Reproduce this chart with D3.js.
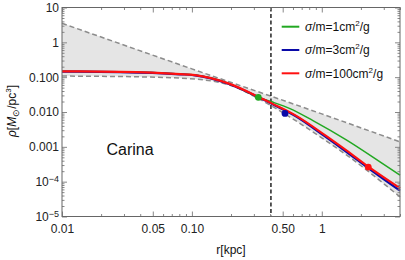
<!DOCTYPE html>
<html>
<head>
<meta charset="utf-8">
<script src="https://cdn.jsdelivr.net/npm/d3@7"></script>
<style>
  body { margin: 0; background: #fff; }
  text { font-family: "Liberation Sans", Arial, sans-serif; }
</style>
</head>
<body>
<div id="chart-area"></div>
<script>
// values
var rCurve = [0.01, 0.028, 0.081, 0.1056, 0.1906, 0.3245, 0.4115, 0.622, 1.058, 1.555, 2.28, 4];
var rhoRed = [0.1468, 0.142, 0.1228, 0.1149, 0.0664, 0.02734, 0.01767, 0.00814, 0.00217, 7.78e-4, 2.70e-4, 6.5e-5];
var rhoBlue = [0.145, 0.140, 0.121, 0.113, 0.065, 0.0268, 0.0172, 0.0078, 0.0020, 7.1e-4, 2.45e-4, 5.5e-5];

var rGreen = [0.01, 0.028, 0.081, 0.1056, 0.1906, 0.3245, 0.4115, 0.569, 0.855, 1.555, 2.806, 4];
var rhoGreen = [0.1468, 0.142, 0.1228, 0.1149, 0.0664, 0.02627, 0.01964, 0.01252, 0.00566, 0.001558, 3.71e-4, 1.54e-4];

var rUpper = [0.01, 0.1, 1, 4];
var rhoUpper = [3.52, 0.173, 0.00882, 0.00139];
var rLower = [0.01, 0.0476, 0.1056, 0.2276, 0.2887, 0.569, 1.058, 1.555, 4];
var rhoLower = [0.1075, 0.1007, 0.0882, 0.0477, 0.0306, 0.00714, 0.001558, 5.77e-4, 3.66e-5];

var dotR = [0.3245, 0.521, 2.28];
var dotRho = [0.0263, 0.00912, 2.62e-4];
var dotColors = ['#22a822', '#0a0aa8', '#ff1010'];

var rCut = 0.406;

var legendLabels = ['1', '3', '100'];
var legendColors = ['#22a822', '#0a0aa8', '#ff1010'];

var xMajor = [0.01, 0.05, 0.1, 0.5, 1];
var xMajorLabels = ['0.01', '0.05', '0.10', '0.50', '1'];
var xMinor = [0.02, 0.03, 0.04, 0.06, 0.07, 0.08, 0.09, 0.2, 0.3, 0.4, 0.6, 0.7, 0.8, 0.9, 2, 3, 4];
var yMajor = [10, 1, 0.1, 0.01, 0.001, 1e-4, 1e-5];
var yMajorLabels = ['10', '1', '0.100', '0.010', '0.001', '10^-4', '10^-5'];

var yMinor = [];
[1e-5, 1e-4, 1e-3, 1e-2, 1e-1, 1].forEach(function (d) {
    [2, 3, 4, 5, 6, 7, 8, 9].forEach(function (k) { yMinor.push(d * k); });
});

var W = 405, H = 260;
var margin = {top: 7.5, right: 5, bottom: 43.5, left: 62};
var width = W - margin.left - margin.right;
var height = H - margin.top - margin.bottom;

var svg = d3.select('#chart-area')
    .append('svg')
        .attr('width', W)
        .attr('height', H);

var g = svg.append('g')
    .attr('transform', 'translate(' + margin.left + ',' + margin.top + ')');

var x = d3.scaleLog().domain([0.01, 4]).range([0, width]);
var y = d3.scaleLog().domain([1e-5, 10]).range([height, 0]);

var line = d3.line()
    .x(function (d) { return x(d[0]); })
    .y(function (d) { return y(d[1]); })
    .curve(d3.curveMonotoneX);

var pts = function (rs, vs) { return rs.map(function (r, i) { return [r, vs[i]]; }); };

// shaded band
var upperPts = pts(rUpper, rhoUpper);
var lowerPts = pts(rLower, rhoLower);
var bandPath = line(upperPts) + 'L' + line(lowerPts.slice().reverse()).slice(1) + 'Z';
g.append('path')
    .attr('d', bandPath)
    .attr('fill', '#e5e5e5')
    .attr('stroke', 'none');

[upperPts, lowerPts].forEach(function (p) {
    g.append('path')
        .attr('d', line(p))
        .attr('fill', 'none')
        .attr('stroke', '#8c8c8c')
        .attr('stroke-width', 1.5)
        .attr('stroke-dasharray', '5,3');
});

// vertical cut
g.append('line')
    .attr('x1', x(rCut)).attr('x2', x(rCut))
    .attr('y1', 0).attr('y2', height)
    .attr('stroke', '#000')
    .attr('stroke-width', 1.3)
    .attr('stroke-dasharray', '4,2.5');

// curves
g.append('path').attr('d', line(pts(rGreen, rhoGreen)))
    .attr('fill', 'none').attr('stroke', legendColors[0]).attr('stroke-width', 1.5);
g.append('path').attr('d', line(pts(rCurve, rhoBlue)))
    .attr('fill', 'none').attr('stroke', legendColors[1]).attr('stroke-width', 2.2);
g.append('path').attr('d', line(pts(rCurve, rhoRed)))
    .attr('fill', 'none').attr('stroke', legendColors[2]).attr('stroke-width', 2.2);

g.selectAll('circle.dot').data(dotR)
    .enter().append('circle')
    .attr('class', 'dot')
    .attr('cx', function (d) { return x(d); })
    .attr('cy', function (d, i) { return y(dotRho[i]); })
    .attr('r', 3.4)
    .attr('fill', function (d, i) { return dotColors[i]; });

// axes and ticks
var tickCol = '#888';
function styleAxis(sel) {
    sel.select('.domain').remove();
    sel.selectAll('line').attr('stroke', tickCol);
    sel.selectAll('text').attr('fill', '#222').attr('font-size', '12px')
        .attr('font-family', '"Liberation Sans", Arial, sans-serif');
}

var xb = g.append('g').attr('transform', 'translate(0,' + height + ')')
    .call(d3.axisBottom(x).tickValues(xMajor).tickSize(-5).tickPadding(7.5)
        .tickFormat(function (d, i) { return xMajorLabels[i]; }));
styleAxis(xb);
var xbm = g.append('g').attr('transform', 'translate(0,' + height + ')')
    .call(d3.axisBottom(x).tickValues(xMinor).tickSize(-2.5).tickFormat(''));
styleAxis(xbm);
var xt = g.append('g').call(d3.axisTop(x).tickValues(xMajor).tickSize(-5).tickFormat(''));
styleAxis(xt);
var xtm = g.append('g').call(d3.axisTop(x).tickValues(xMinor).tickSize(-2.5).tickFormat(''));
styleAxis(xtm);

var yl = g.append('g')
    .call(d3.axisLeft(y).tickValues(yMajor).tickSize(-5).tickPadding(3)
        .tickFormat(function (d, i) { return yMajorLabels[i]; }));
styleAxis(yl);
yl.selectAll('text').each(function () {
    var t = d3.select(this);
    var s = t.text();
    if (s.indexOf('^') > 0) {
        var parts = s.split('^');
        t.text(parts[0]);
        t.append('tspan').attr('dy', '-0.45em').attr('font-size', '9px').text(parts[1].replace('-', '\u2212'));
    }
});
var ylm = g.append('g').call(d3.axisLeft(y).tickValues(yMinor).tickSize(-2.5).tickFormat(''));
styleAxis(ylm);
var yr = g.append('g').attr('transform', 'translate(' + width + ',0)')
    .call(d3.axisRight(y).tickValues(yMajor).tickSize(-5).tickFormat(''));
styleAxis(yr);
var yrm = g.append('g').attr('transform', 'translate(' + width + ',0)')
    .call(d3.axisRight(y).tickValues(yMinor).tickSize(-2.5).tickFormat(''));
styleAxis(yrm);

// frame
g.append('rect')
    .attr('x', 0).attr('y', 0)
    .attr('width', width).attr('height', height)
    .attr('fill', 'none')
    .attr('stroke', '#666')
    .attr('stroke-width', 1);

// legend
var leg = g.append('g').attr('transform', 'translate(' + (281.7 - margin.left) + ',' + (26.7 - margin.top) + ')');
legendLabels.forEach(function (lab, i) {
    var row = leg.append('g').attr('transform', 'translate(0,' + (i * 23.3) + ')');
    row.append('line').attr('x1', 0).attr('x2', 17.6).attr('y1', 0).attr('y2', 0)
        .attr('stroke', legendColors[i]).attr('stroke-width', 2);
    var t = row.append('text').attr('x', 23.3).attr('y', 4.3).attr('font-size', '12px').attr('fill', '#111');
    t.append('tspan').attr('font-style', 'italic').text('\u03c3');
    t.append('tspan').text('/m=' + lab + 'cm');
    t.append('tspan').attr('dy', '-5').attr('font-size', '8px').text('2');
    t.append('tspan').attr('dy', '5').text('/g');
});

// galaxy name
g.append('text')
    .attr('x', 106.5 - margin.left)
    .attr('y', 155 - margin.top)
    .attr('font-size', '16px')
    .attr('fill', '#111')
    .text('Carina');

// axis labels
svg.append('text')
    .attr('x', 231)
    .attr('y', 254)
    .attr('text-anchor', 'middle')
    .attr('font-size', '12px')
    .attr('fill', '#111')
    .text('r[kpc]');

var ylab = svg.append('text')
    .attr('transform', 'translate(16,111) rotate(-90)')
    .attr('text-anchor', 'middle')
    .attr('font-size', '12px')
    .attr('fill', '#111');
ylab.append('tspan').attr('font-style', 'italic').text('\u03c1');
ylab.append('tspan').text('[');
ylab.append('tspan').attr('font-style', 'italic').text('M');
ylab.append('tspan').attr('dy', '3').attr('font-size', '9px').text('\u2299');
ylab.append('tspan').attr('dy', '-3').text('/pc');
ylab.append('tspan').attr('dy', '-5').attr('font-size', '8px').text('3');
ylab.append('tspan').attr('dy', '5').text(']');
</script>
</body>
</html>
